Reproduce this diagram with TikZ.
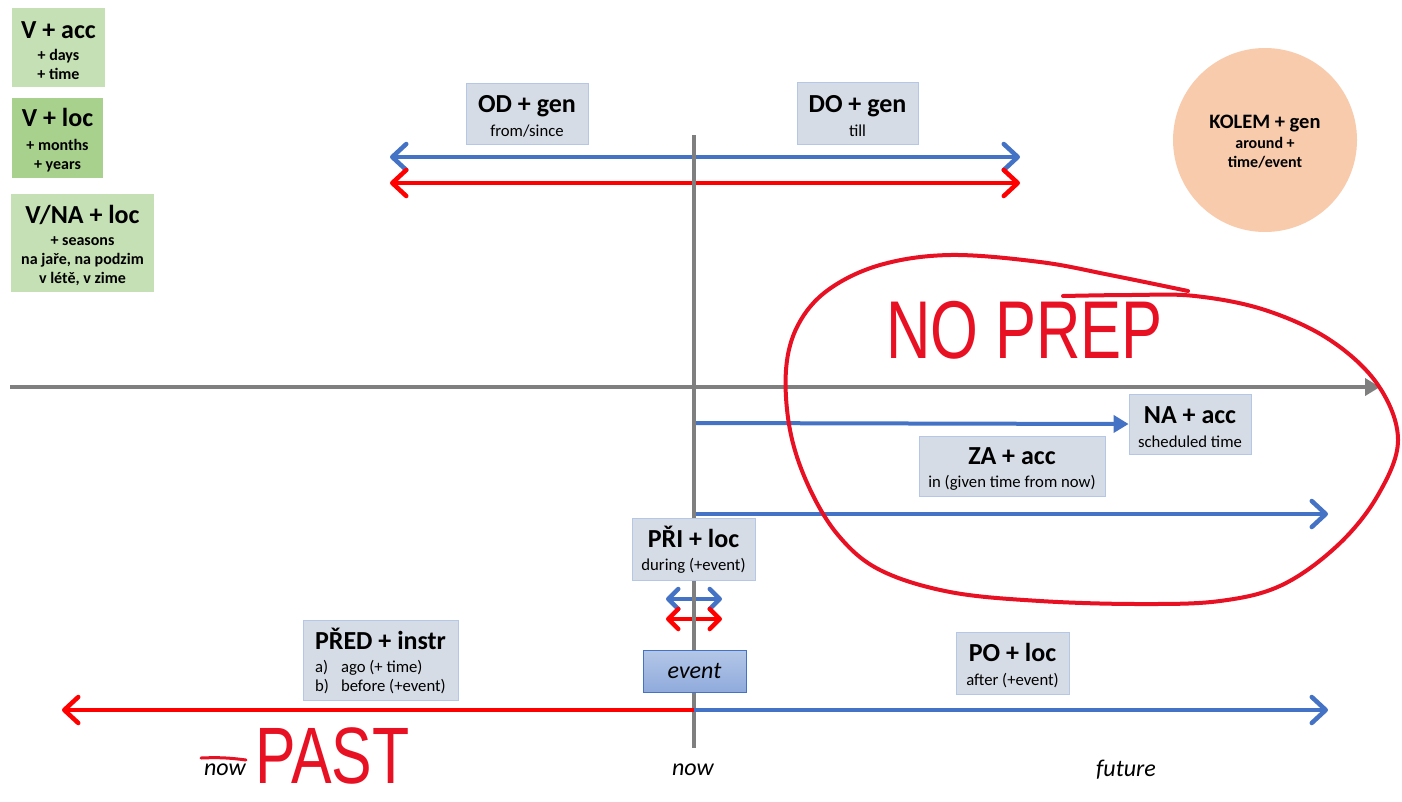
\documentclass[tikz,border=0pt]{standalone}
\usepackage{fontspec}
\setmainfont{Carlito}
\newfontfamily\inkfont{Liberation Sans}
\usetikzlibrary{arrows.meta}

\definecolor{boxgray}{HTML}{D6DCE5}
\definecolor{boxedge}{HTML}{B4C7E7}
\definecolor{greenlight}{HTML}{C5E0B4}
\definecolor{greendark}{HTML}{A9D18E}
\definecolor{peach}{HTML}{F8CBAD}
\definecolor{lineblue}{HTML}{4472C4}
\definecolor{linered}{HTML}{FF0000}
\definecolor{linegray}{HTML}{7F7F7F}
\definecolor{ink}{HTML}{E81123}
\definecolor{eventtop}{HTML}{B4C7E7}
\definecolor{eventbot}{HTML}{8FAADC}

\newcommand{\prephead}[1]{{\fontsize{26}{26}\selectfont\bfseries\rule{0pt}{23pt}#1}}

\tikzset{
  prepbox/.style={fill=boxgray,draw=boxedge,line width=0.8pt,inner sep=0pt,align=center,
    font=\fontsize{16.7}{19}\selectfont},
  timebox/.style={inner sep=0pt,align=center,font=\fontsize{16}{19}\selectfont\bfseries},
  blueline/.style={draw=lineblue,line width=4.5pt},
  redline/.style={draw=linered,line width=4.5pt},
  grayline/.style={draw=linegray,line width=4pt},
  inkline/.style={draw=ink,line width=4pt,line cap=round,line join=round},
  inktext/.style={text=ink,inner sep=0pt,font=\inkfont\fontsize{82}{82}\selectfont},
  when/.style={inner sep=0pt,font=\fontsize{24}{24}\selectfont\itshape}
}

\begin{document}
\begin{tikzpicture}[x=1pt,y=-1pt,>={Straight Barb[length=14pt,width=26pt,round]}]
\useasboundingbox (0,0) rectangle (1402,801);

\node[timebox,fill=greenlight,minimum width=93,minimum height=79] (vacc) at (58.5,47.5)
  {\prephead{V + acc}\\[2.5pt]+ days\\+ time};
\node[timebox,fill=greendark,minimum width=91,minimum height=80] (vloc) at (57.5,138)
  {\prephead{V + loc}\\[4.5pt]+ months\\+ years};
\node[timebox,fill=greenlight,minimum width=143,minimum height=98] (naloc) at (82.5,243)
  {\prephead{V/NA + loc}\\[3.5pt]+ seasons\\na jaře, na podzim\\v létě, v zime};

\node[timebox,circle,fill=peach,minimum size=184] (kolem) at (1265,140)
  {{\fontsize{20.5}{20}\selectfont\rule{0pt}{17pt}KOLEM + gen}\\[1.5pt]around +\\time/event};

\coordinate (fromB) at (390,157);
\coordinate (toB) at (1020,157);
\coordinate (fromR) at (390,183);
\coordinate (toR) at (1020,183);
\draw[blueline,<->] (fromB) -- (toB);
\draw[redline,<->] (fromR) -- (toR);

\coordinate (axisL) at (10,387);
\coordinate (axisR) at (1380,387);
\draw[grayline,-{Triangle[length=15pt,width=17pt]}] (axisL) -- (axisR);

\coordinate (duringL) at (666,599);
\coordinate (duringR) at (722,599);
\coordinate (duringLr) at (666,619);
\coordinate (duringRr) at (722,619);
\draw[blueline,{Straight Barb[length=10pt,width=20pt,round]}-{Straight Barb[length=10pt,width=20pt,round]}] (duringL) -- (duringR);
\draw[redline,{Straight Barb[length=10pt,width=20pt,round]}-{Straight Barb[length=10pt,width=20pt,round]}] (duringLr) -- (duringRr);

\coordinate (nowtop) at (694,135);
\coordinate (nowbot) at (694,748);
\draw[grayline] (nowtop) -- (nowbot);

\coordinate (nowmid) at (694,710);
\coordinate (pastend) at (62,710);
\coordinate (futend) at (1328,710);
\draw[redline,->] (nowmid) -- (pastend);
\draw[blueline,->] (nowmid) -- (futend);

\coordinate (zastart) at (696,514);
\coordinate (zaend) at (1328,514);
\draw[blueline,->] (zastart) -- (zaend);

\node[prepbox,minimum width=122,minimum height=61] (od) at (527,113.5)
  {\prephead{OD + gen}\\[4.5pt]from/since};
\node[prepbox,minimum width=121,minimum height=62] (do) at (857.5,113)
  {\prephead{DO + gen}\\[4.5pt]till};
\node[prepbox,minimum width=122,minimum height=60] (na) at (1190,424)
  {\prephead{NA + acc}\\[4.5pt]scheduled time};
\node[prepbox,minimum width=186,minimum height=60] (za) at (1012,466)
  {\prephead{ZA + acc}\\[4.5pt]in (given time from now)};
\node[prepbox,minimum width=123,minimum height=62] (pri) at (693.5,549)
  {\prephead{PŘI + loc}\\[4.5pt]during (+event)};
\node[prepbox,minimum width=113,minimum height=62] (po) at (1012.5,663)
  {\prephead{PO + loc}\\[4.5pt]after (+event)};
\node[prepbox,align=left,minimum width=155,minimum height=80] (pred) at (380.5,660)
  {\prephead{PŘED + instr}\\[3.5pt]\makebox[26pt][l]{a)}ago (+ time)\\\makebox[26pt][l]{b)}before (+event)};
\node[top color=eventtop,bottom color=eventbot,draw=lineblue,line width=1pt,
  minimum width=103,minimum height=42,inner sep=0pt,font=\fontsize{24}{24}\selectfont\itshape]
  (event) at (694.5,671) {event};

\coordinate (nastart) at (696,423);
\draw[blueline,line width=4pt,-{Triangle[length=15pt,width=17pt]}] (nastart) -- (na.west);

\node[when] (nowpast) at (225,770) {now};
\node[when] (now) at (693,770) {now};
\node[when] (future) at (1126,770) {future};

\draw[inkline,line width=3pt] (201,758) to[bend left=5] (246,760);
\node[inktext,anchor=base west,font=\inkfont\fontsize{80}{80}\selectfont] (past) at (255,783) {\scalebox{0.76}[1]{PAST}};
\node[inktext,anchor=base west] (noprep) at (886,358) {\scalebox{0.75}[1]{NO PREP}};

\draw[inkline] plot[smooth,tension=0.6] coordinates {(1063,296) (1130,295) (1195,296)
  (1265,310) (1330,340) (1378,385) (1398,440) (1378,495) (1338,545) (1282,585)
  (1220,601) (1140,604) (1040,601) (950,592) (880,570) (838,535) (808,485)
  (790,430) (786,370) (798,325) (828,290) (880,265) (950,255) (1040,262)
  (1110,275) (1188,291)};
\end{tikzpicture}
\end{document}
